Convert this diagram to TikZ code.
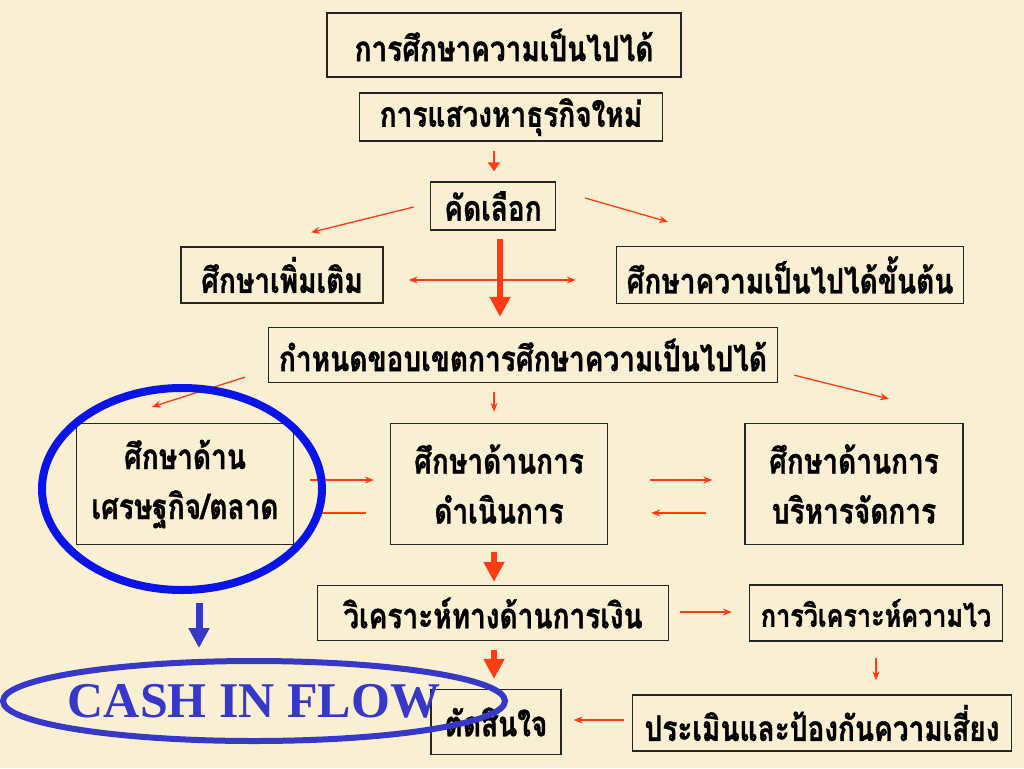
\documentclass[tikz,border=0pt]{standalone}
\usepackage{fontspec}
\setmainfont{Liberation Serif}
\newfontfamily\thaifont[Script=Thai,FakeStretch=0.80,FakeBold=1]{Loma}
\usetikzlibrary{arrows.meta,shapes.geometric}

\definecolor{paper}{RGB}{249,239,210}
\definecolor{arrowred}{RGB}{255,60,20}
\definecolor{ringblue}{RGB}{10,20,230}
\definecolor{cashblue}{RGB}{55,55,200}

\tikzset{
  box/.style = {draw = black!85, line width = 1.3pt, align = center, inner sep = 0pt,
                font = \thaifont\bfseries\fontsize{35}{50}\selectfont},
  thinarr/.style = {draw = arrowred, line width = 1.3pt, -{Stealth[length=9pt,width=7pt]}},
  midarr/.style = {draw = arrowred, line width = 2.5pt, -{Triangle[length=9pt,width=12pt]}},
  bigarr/.style = {draw = arrowred, line width = 6pt, -{Triangle[length=20pt,width=20pt]}},
  ring/.style = {draw = ringblue, line width = 8pt, ellipse},
  cashring/.style = {draw = cashblue, line width = 6pt, ellipse, text = cashblue,
                     font = \bfseries\fontsize{50}{55}\selectfont}
}

\begin{document}
\begin{tikzpicture}[x = 1pt, y = -1pt]
\fill[paper] (0,0) rectangle (1024,768);
\useasboundingbox (0,0) rectangle (1024,768);
% boxes of the flow
\node[box, minimum width = 354, minimum height = 64] (study) at (504,45) {การศึกษาความเป็นไปได้};
\node[box, minimum width = 303, minimum height = 48] (seek) at (511,117) {การแสวงหาธุรกิจใหม่};
\node[box, minimum width = 125, minimum height = 48] (select) at (493,206) {คัดเลือก};
\node[box, minimum width = 202, minimum height = 56] (more) at (282,275) {ศึกษาเพิ่มเติม};
\node[box, minimum width = 347, minimum height = 57] (prelim) at (790,275) {ศึกษาความเป็นไปได้ขั้นต้น};
\node[box, minimum width = 509, minimum height = 55] (scope) at (523,355) {กำหนดขอบเขตการศึกษาความเป็นไปได้};
\node[box, minimum width = 217, minimum height = 121] (econ) at (185,484) {ศึกษาด้าน\\เศรษฐกิจ/ตลาด};
\node[box, minimum width = 217, minimum height = 121] (oper) at (499,484) {ศึกษาด้านการ\\ดำเนินการ};
\node[box, minimum width = 218, minimum height = 121] (mgmt) at (854,484) {ศึกษาด้านการ\\บริหารจัดการ};
\node[box, minimum width = 351, minimum height = 55] (fin) at (493,613) {วิเคราะห์ทางด้านการเงิน};
\node[box, minimum width = 253, minimum height = 56, font = \thaifont\bfseries\fontsize{31.5}{40}\selectfont] (sens) at (876,613) {การวิเคราะห์ความไว};
\node[box, minimum width = 379, minimum height = 56] (risk) at (822,723) {ประเมินและป้องกันความเสี่ยง};
\node[box, minimum width = 130, minimum height = 65] (decide) at (496,722) {ตัดสินใจ};
% connectors
\draw[midarr] ([xshift=-17pt,yshift=-9pt]seek.south) -- ([xshift=1pt,yshift=10pt]select.north);
\draw[thinarr] ([xshift=-16pt,yshift=-1pt]select.west) -- ([xshift=29pt,yshift=14pt]more.north);
\draw[thinarr] ([xshift=29pt,yshift=8pt]select.east) -- ([xshift=-122pt,yshift=24pt]prelim.north);
\draw[thinarr, {Stealth[length=9pt,width=7pt]}-{Stealth[length=9pt,width=7pt]}] ([xshift=25pt,yshift=-5pt]more.east) -- ([xshift=-40pt,yshift=-5pt]prelim.west);
\draw[bigarr] ([xshift=7pt,yshift=-8pt]select.south) -- ([xshift=-23pt,yshift=10pt]scope.north);
\draw[thinarr] ([xshift=-23pt,yshift=6pt]scope.south west) -- ([xshift=-33pt,yshift=16pt]econ.north);
\draw[thinarr] ([xshift=-29pt,yshift=-9pt]scope.south) -- ([xshift=-5pt,yshift=11pt]oper.north);
\draw[thinarr] ([xshift=16pt,yshift=8pt]scope.south east) -- ([xshift=35pt,yshift=24pt]mgmt.north);
\draw[thinarr] ([xshift=16pt,yshift=4pt]econ.east) -- ([xshift=-16pt,yshift=4pt]oper.west);
\draw[thinarr] ([xshift=-24pt,yshift=-29pt]oper.west) -- ([xshift=19pt,yshift=-29pt]econ.east);
\draw[thinarr] ([xshift=42pt,yshift=4pt]oper.east) -- ([xshift=-32pt,yshift=4pt]mgmt.west);
\draw[thinarr] ([xshift=-38pt,yshift=-29pt]mgmt.west) -- ([xshift=43pt,yshift=-29pt]oper.east);
\draw[bigarr] ([xshift=-5pt,yshift=-7pt]oper.south) -- ([xshift=1pt,yshift=3pt]fin.north);
\draw[thinarr] ([xshift=11pt,yshift=1pt]fin.east) -- ([xshift=-17pt,yshift=1pt]sens.west);
\draw[bigarr] ([xshift=1pt,yshift=-9pt]fin.south) -- ([xshift=-2pt,yshift=10pt]decide.north);
\draw[thinarr] ([yshift=-16pt]sens.south) -- ([xshift=54pt,yshift=14pt]risk.north);
\draw[thinarr] ([xshift=-8pt,yshift=3pt]risk.west) -- ([xshift=12pt,yshift=2pt]decide.east);
% blue marks
\node[ring, minimum width = 280, minimum height = 202] (ring) at (182,489) {};
\node[cashring, minimum width = 502, minimum height = 80, inner sep = 0pt] (cash) at (254,701) {\makebox[0pt]{CASH IN FLOW}};
\draw[draw = cashblue, line width = 7pt, -{Triangle[length=20pt,width=20pt]}] ([xshift=17pt,yshift=-9pt]ring.south) -- ([xshift=-55pt,yshift=10pt]cash.north);
\end{tikzpicture}
\end{document}
